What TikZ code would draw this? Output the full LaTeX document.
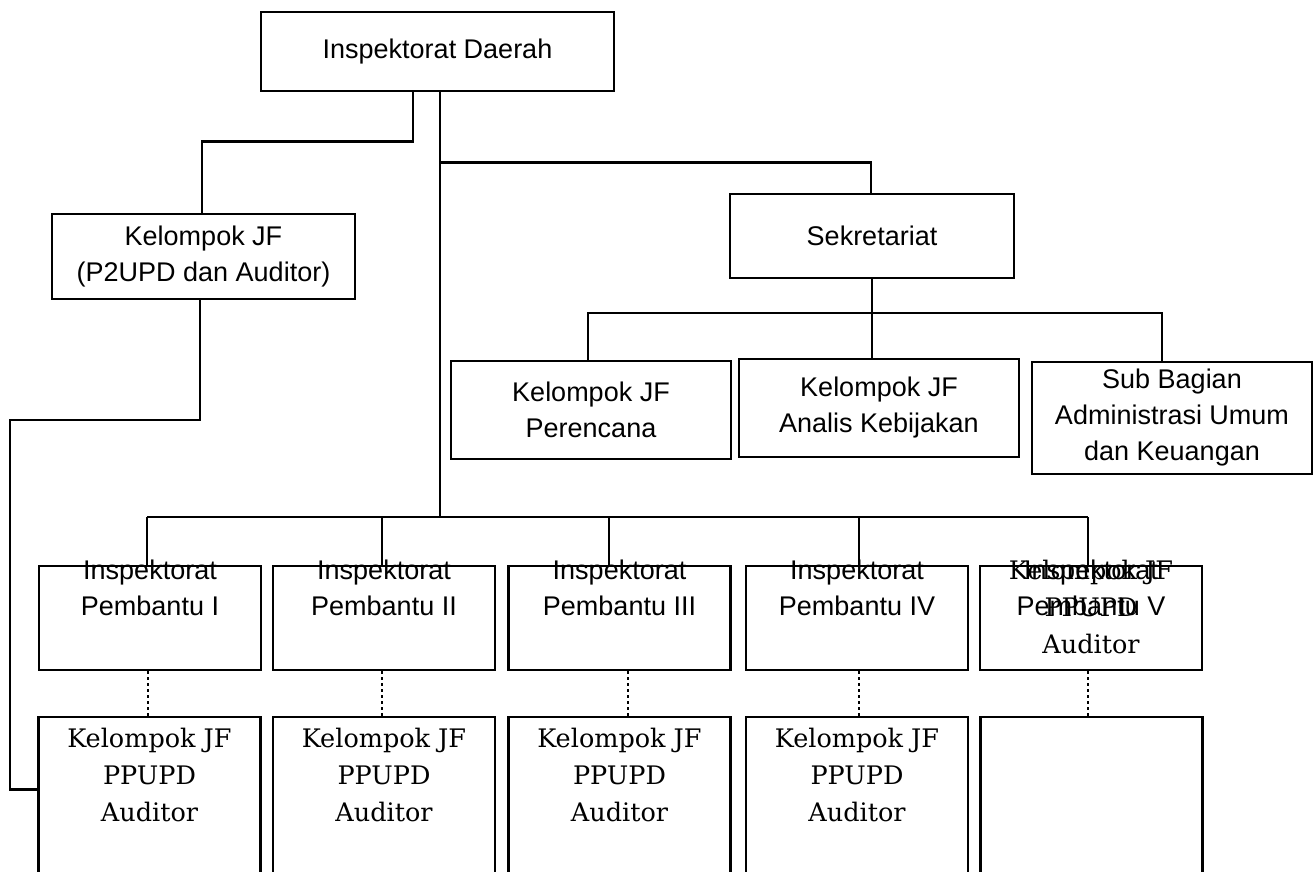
\documentclass[tikz,border=0pt]{standalone}
\usepackage{fontspec}
\newfontfamily\arialfont{Liberation Sans}
\newfontfamily\bookfont{DejaVu Serif}

\begin{document}
\begin{tikzpicture}[x=1pt, y=-1pt,
  unit/.style={draw, line width=2.8pt, inner sep=0pt, align=center, font=\arialfont\fontsize{27}{36}\selectfont},
  sanstxt/.style={inner sep=0pt, align=center, font=\arialfont\fontsize{27}{36}\selectfont},
  seriftxt/.style={inner sep=0pt, align=center, font=\bookfont\fontsize{25.5}{37}\selectfont},
  conn/.style={draw, line width=2.5pt},
  dotconn/.style={draw, line width=2.5pt, dash pattern=on 3pt off 3pt}
]
\useasboundingbox (0,0) rectangle (1316,871);
\fill[white] (0,0) rectangle (1316,871);
\clip (0,0) rectangle (1316,871);

% Head and upper units
\node[unit, minimum width=353pt, minimum height=79pt] (head) at (437.5,51.5) {Inspektorat Daerah};
\node[unit, minimum width=303pt, minimum height=85pt] (jf) at (203.5,256.5) {Kelompok JF\\(P2UPD dan Auditor)};
\node[unit, minimum width=284pt, minimum height=84pt] (sek) at (872,236) {Sekretariat};
\node[unit, minimum width=280pt, minimum height=98pt] (perc) at (591,410) {Kelompok JF\\Perencana};
\node[unit, minimum width=280pt, minimum height=98pt] (anal) at (879,408) {Kelompok JF\\Analis Kebijakan};
\node[unit, minimum width=280pt, minimum height=112pt] (subag) at (1172,418) {Sub Bagian\\Administrasi Umum\\dan Keuangan};

% Inspektorat Pembantu row
\foreach \i/\cx/\lab in {1/150/I, 2/384/II, 3/619.5/III, 4/857/IV, 5/1091/V} {
  \node[unit, minimum width=222pt, minimum height=104pt] (ip\i) at (\cx,618) {};
  \node[sanstxt] (ip\i txt) at (\cx,588) {Inspektorat\\Pembantu \lab};
}
\node[seriftxt] (ip5jf) at (1091,607) {Kelompok JF\\PPUPD\\Auditor};

% Kelompok JF row (cut off below)
\foreach \i/\cx in {1/149.5, 2/384, 3/619.5, 4/857, 5/1091.5}
  \node[unit, minimum width=222pt, minimum height=200pt] (kb\i) at (\cx,817) {};
\foreach \i in {1,...,4}
  \node[seriftxt] (kb\i txt) at (kb\i.center |- 0,775) {Kelompok JF\\PPUPD\\Auditor};

% Connectors
\coordinate (spinetop) at ([xshift=2.5pt]head.south);
\coordinate (busl) at (147,517);
\coordinate (busr) at (1088,517);
\coordinate (rail) at (10,420);
\coordinate (sbus) at (588,313);
\coordinate (sbusr) at (1162,313);

\draw[conn] ([xshift=-24.5pt]head.south) -- ++(0,49) -| ([xshift=-1.5pt]jf.north);
\draw[conn] ([xshift=-3.5pt]jf.south) |- (rail) |- ([yshift=-74pt]kb1.north west);
\draw[conn] (spinetop) -- (spinetop |- busl);
\draw[conn] (spinetop) ++(0,70) -| ([xshift=-1pt]sek.north);
\draw[conn] (sek.south) -- (sek.south |- anal.north);
\draw[conn] (sbus |- perc.north) -- (sbus) -- (sbusr) -- (sbusr |- subag.north);
\draw[conn] (busl) -- (busr);
\foreach \i/\x in {1/147, 2/382, 3/609, 4/859, 5/1088}
  \draw[conn] (\x,517) -- (\x,517 |- ip\i.north);
\foreach \i/\x in {1/148, 2/382, 3/628, 4/859, 5/1088}
  \draw[dotconn] (\x,0 |- ip\i.south) -- (\x,0 |- kb\i.north);
\end{tikzpicture}
\end{document}
